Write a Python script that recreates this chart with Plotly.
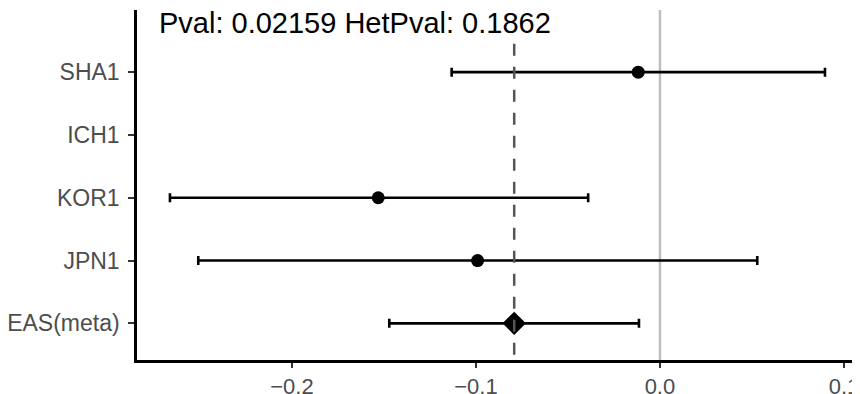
import plotly.graph_objects as go

# Data
labels = ["SHA1", "ICH1", "KOR1", "JPN1", "EAS(meta)"]
beta = [-0.0118, None, -0.1531, -0.0991, -0.0792]
lower = [-0.1132, None, -0.2663, -0.2509, -0.1471]
upper = [0.0897, None, -0.0390, 0.0529, -0.0114]
is_meta = [False, False, False, False, True]
x_tickvals = [-0.2, -0.1, 0.0, 0.1]
x_ticktext = ["\u22120.2", "\u22120.1", "0.0", "0.1"]
title_text = "Pval: 0.02159 HetPval: 0.1862"
meta_beta = beta[-1]

n = len(labels)
ypos = [n - i for i in range(n)]  # SHA1 at top

err_plus = [None if b is None else u - b for b, u in zip(beta, upper)]
err_minus = [None if b is None else b - l for b, l in zip(beta, lower)]
symbols = ["diamond" if m else "circle" for m in is_meta]
sizes = [18 if m else 13 for m in is_meta]

FONT = "Liberation Sans, Arial, Helvetica, sans-serif"

fig = go.Figure()
fig.add_trace(go.Scatter(
    x=beta, y=ypos, mode="markers", opacity=1,
    marker=dict(color="black", symbol=symbols, size=sizes, opacity=1, line=dict(width=0)),
    error_x=dict(type="data", array=err_plus, arrayminus=err_minus,
                 color="black", thickness=2.6, width=4.5, symmetric=False),
    showlegend=False, hoverinfo="skip",
))

# zero reference line (behind)
fig.add_shape(type="line", xref="x", yref="paper", x0=0, x1=0, y0=0, y1=1,
              line=dict(color="#BEBEBE", width=2.5), layer="below")
# meta estimate dashed line (above)
fig.add_shape(type="line", xref="x", yref="y", x0=meta_beta, x1=meta_beta,
              y0=0.5, y1=n + 0.5,
              line=dict(color="#555555", width=2.5, dash="12px,11px"), layer="above")

fig.add_annotation(text=title_text, xref="paper", yref="paper",
                   x=0.0278, y=0.964, xanchor="left", yanchor="middle",
                   showarrow=False, font=dict(family=FONT, size=29, color="black"))

# page body has an 8px default margin; figure is sized to fit the window
fig.update_layout(
    width=852, height=386,
    margin=dict(l=129, r=3, t=2, b=34, autoexpand=False),
    paper_bgcolor="white", plot_bgcolor="white",
    font=dict(family=FONT),
)
fig.update_xaxes(range=[-0.2842, 0.1071], tickvals=x_tickvals, ticktext=x_ticktext,
                 automargin=False,
                 showgrid=False, zeroline=False, showline=True, linecolor="black",
                 linewidth=2.5, ticks="outside", ticklen=5, tickwidth=2.2,
                 tickcolor="#333333", tickfont=dict(size=22, color="#4D4D4D"))
fig.update_yaxes(range=[0.416, 5.99], tickvals=ypos, ticktext=labels,
                 automargin=False, ticklabelstandoff=4,
                 showgrid=False, zeroline=False, showline=True, linecolor="black",
                 linewidth=2.5, ticks="outside", ticklen=6, tickwidth=2.2,
                 tickcolor="#333333", tickfont=dict(size=23, color="#4D4D4D"))

fig.write_html("out.html")
